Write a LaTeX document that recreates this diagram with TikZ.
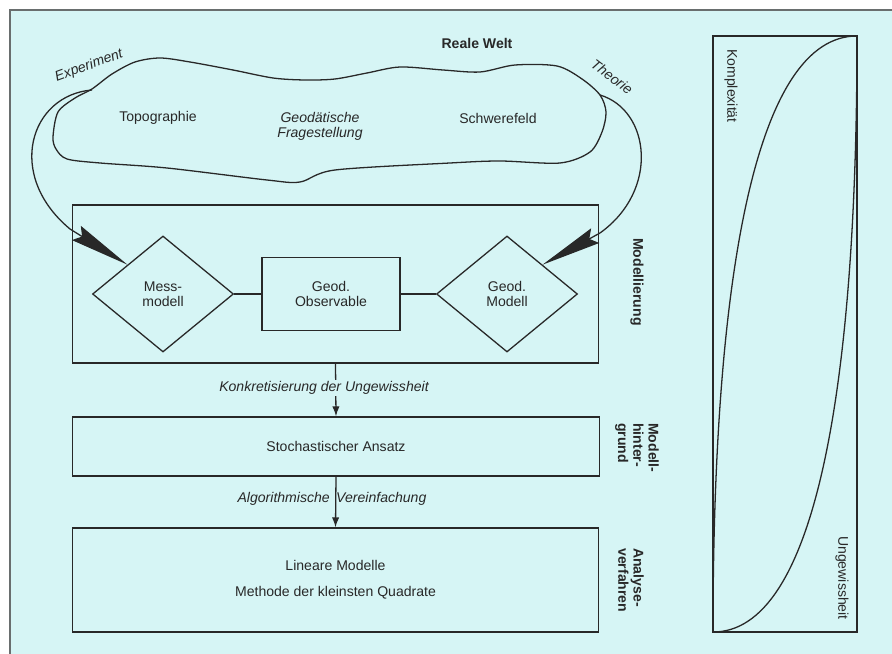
\documentclass[tikz,border=0pt]{standalone}
\usepackage{fontspec}
\setmainfont{Liberation Sans}
\usetikzlibrary{arrows.meta,shapes.geometric}
\definecolor{paleblue}{RGB}{214,245,245}
\definecolor{framegray}{RGB}{105,110,110}
\definecolor{inkgray}{RGB}{40,40,40}

\begin{document}
\begin{tikzpicture}[x=0.03cm,y=-0.03cm,
    every node/.style={font=\fontsize{12}{13}\selectfont, text=inkgray},
    line/.style={draw=inkgray, line width=1.1pt},
    note/.style={font=\fontsize{12}{13}\selectfont\itshape},
    panel/.style={line, rectangle, minimum width=15.8cm, inner sep=0pt},
    rhombus/.style={line, diamond, minimum width=4.23cm, minimum height=3.48cm, inner sep=0pt, align=center},
    bigarrow/.style={line, -{Stealth[length=1.8cm,width=0.5cm,inset=0.2cm]}},
    smallarrow/.style={line, -{Latex[length=0.3cm,width=0.22cm]}},
    sidelabel/.style={rotate=-90, font=\fontsize{12}{13}\selectfont\bfseries, align=left, inner sep=0pt}]

\def\BACKGROUND{paleblue}
\def\FRAMECOLOR{framegray}
	% sheet
	\useasboundingbox (0,0) rectangle (892,654);
	\fill[\BACKGROUND] (10,10) rectangle (892,654);
	\draw[\FRAMECOLOR,line width=1.1pt] (10,660) -- (10,10) -- (900,10);

	% reale welt
	\draw[line] plot[smooth cycle,tension=0.5] coordinates {
		(53,137) (58,112) (75,98) (92,89) (112,74) (135,62) (160,58) (190,62)
		(233,70) (273,78) (305,80) (335,79) (367,73) (400,67) (443,70) (480,72)
		(515,65) (557,66) (582,79) (600,95) (606,112) (602,132) (590,152) (560,163)
		(500,161) (450,163) (335,170) (300,182) (267,180) (167,168) (100,163) (67,159) (56,149)};
	\coordinate (expstart) at (92,90);
	\coordinate (theostart) at (600,95);
	\node[font=\fontsize{12}{13}\selectfont\bfseries] (welt) at (477,43) {Reale Welt};
	\node (topo) at (158,118) {Topographie};
	\node[note, align=center] (frage) at (320,126) {Geodätische\\Fragestellung};
	\node (schwere) at (498,118) {Schwerefeld};
	\node[note, rotate=20] (exp) at (89,66) {Experiment};
	\node[note, rotate=-37] (theo) at (612,77) {Theorie};

	% modellierung
	\node[panel, minimum height=4.74cm] (modell) at (335.5,284) {};
	\node[rhombus] (mess) at (163,294) {Mess-\\modell};
	\node[line, minimum width=4.14cm, minimum height=2.19cm, inner sep=0pt, align=center] (obs) at (331,294) {Geod.\\Observable};
	\node[rhombus] (gmod) at (507,294) {Geod.\\Modell};
	\draw[line] (mess.east) -- (obs.west);
	\draw[line] (obs.east) -- (gmod.west);
	\node[sidelabel] (lmodell) at (637,282) {Modellierung};
	\draw[bigarrow] (expstart) .. controls (30,95) and (5,175) .. (70,229) -- (mess.north west);
	\draw[bigarrow] (theostart) .. controls (650,110) and (660,190) .. (600,233) -- (gmod.north east);

	% modellhintergrund
	\node[panel, minimum height=1.77cm] (stoch) at (336,446.5) {Stochastischer Ansatz};
	\draw[smallarrow] (modell.south) -- (stoch.north);
	\node[note, fill=\BACKGROUND, inner sep=1.5pt] (konk) at (324,388) {Konkretisierung der Ungewissheit};
	\node[sidelabel, anchor=north west] (lhinter) at (659,423) {Modell-\\hinter-\\grund};

	% analyseverfahren
	\node[panel, minimum height=3.12cm, align=center] (analyse) at (335.5,580) {Lineare Modelle\\[9pt]Methode der kleinsten Quadrate};
	\draw[smallarrow] (stoch.south) -- (analyse.north);
	\node[note, anchor=base east, inner sep=0pt] (algo) at (330,502) {Algorithmische};
	\node[note, anchor=base west, inner sep=0pt] (verein) at (336,502) {Vereinfachung};
	\node[sidelabel, anchor=north west] (lanalyse) at (644,548) {Analyse-\\verfahren};

	% komplexitaet / ungewissheit
	\coordinate (sbl) at (713,632);
	\coordinate (str) at (857,36);
	\draw[line] (sbl) rectangle (str);
	\draw[line] (sbl) .. controls (713,274) and (756,36) .. (str);
	\draw[line] (sbl) .. controls (814,632) and (857,394) .. (str);
	\node[rotate=-90] (kompl) at (731,86) {Komplexität};
	\node[rotate=-90] (ungew) at (842,578) {Ungewissheit};

          \end{tikzpicture}
\end{document}
